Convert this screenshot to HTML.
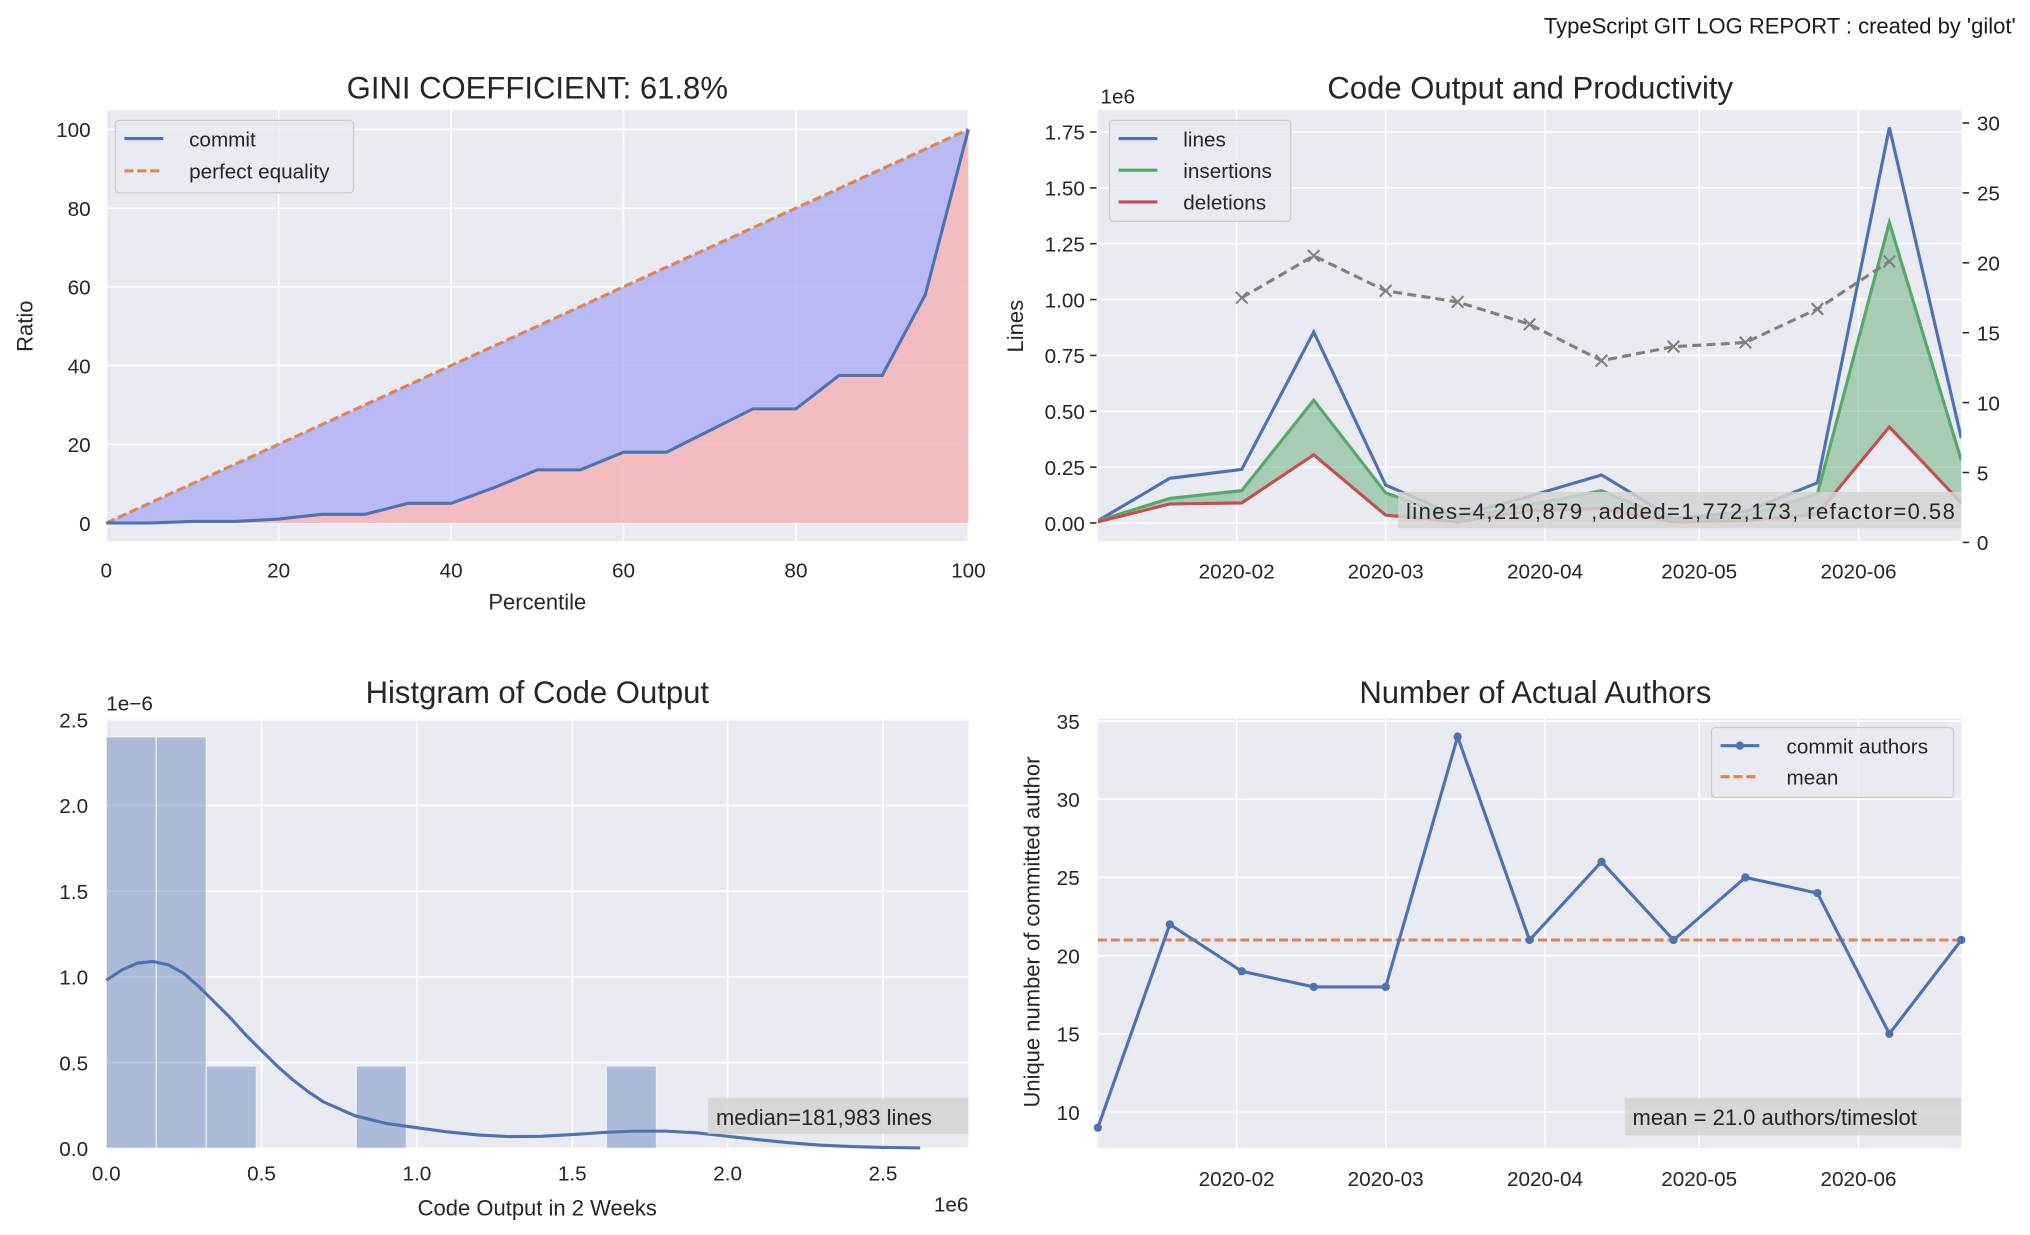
<!DOCTYPE html>
<html><head><meta charset="utf-8">
<style>
html,body{margin:0;padding:0;background:#fff;}
svg{display:block;font-family:"Liberation Sans",Arial,sans-serif;}
</style></head>
<body>
<svg id="fig" width="2030" height="1235" viewBox="0 0 1568 954" xmlns="http://www.w3.org/2000/svg">
<text x="1557" y="26" text-anchor="end" font-size="17" fill="#1a1a1a">TypeScript GIT LOG REPORT : created by 'gilot'</text>
</svg>
<script>
// ---- Panel 1: Gini / Lorenz ----
const giniPct = [0,5,10,15,20,25,30,35,40,45,50,55,60,65,70,75,80,85,90,95,100];
const giniCommit = [0,0,0.4,0.4,1,2.2,2.2,5,5,9,13.5,13.5,18,18,23.5,29,29,37.5,37.5,58,100];
const giniXTicks = [0,20,40,60,80,100];
const giniYTicks = [0,20,40,60,80,100];
// ---- Panel 2: code output ----
const outDates = ["2020-01-05","2020-01-19","2020-02-02","2020-02-16","2020-03-01","2020-03-15","2020-03-29","2020-04-12","2020-04-26","2020-05-10","2020-05-24","2020-06-07","2020-06-21"];
const outLines = [0.01,0.2,0.24,0.855,0.17,0.03,0.12,0.215,0.02,0.05,0.18,1.77,0.38];
const outInsert = [0.01,0.11,0.145,0.55,0.135,0.02,0.08,0.145,0.01,0.03,0.13,1.345,0.28];
const outDelete = [0.005,0.085,0.09,0.305,0.035,0.005,0.055,0.065,0.005,0.01,0.04,0.43,0.09];
const prodDates = ["2020-02-02","2020-02-16","2020-03-01","2020-03-15","2020-03-29","2020-04-12","2020-04-26","2020-05-10","2020-05-24","2020-06-07"];
const prodValues = [17.5,20.5,18,17.2,15.6,13,14,14.3,16.7,20.1];
const outYTicks = [0,0.25,0.5,0.75,1.0,1.25,1.5,1.75];
const outY2Ticks = [0,5,10,15,20,25,30];
const monthTicks = ["2020-02-01","2020-03-01","2020-04-01","2020-05-01","2020-06-01"];
// ---- Panel 3: histogram ----
const binEdgesStart = [0,0.161,0.322,0.805,1.61];
const binHeights = [2.4,2.4,0.48,0.48,0.48];
const kdeX = [0,0.05,0.1,0.15,0.2,0.25,0.3,0.35,0.4,0.45,0.5,0.55,0.6,0.65,0.7,0.75,0.8,0.9,1.0,1.1,1.2,1.3,1.4,1.5,1.6,1.7,1.8,1.9,2.0,2.1,2.2,2.3,2.4,2.5,2.62];
const kdeY = [0.98,1.04,1.08,1.09,1.07,1.02,0.94,0.85,0.76,0.66,0.57,0.48,0.4,0.33,0.27,0.23,0.19,0.145,0.12,0.095,0.077,0.068,0.07,0.08,0.092,0.1,0.1,0.09,0.07,0.05,0.032,0.018,0.01,0.005,0.002];
const histXTicks = [0,0.5,1.0,1.5,2.0,2.5];
const histYTicks = [0,0.5,1.0,1.5,2.0,2.5];
// ---- Panel 4: authors ----
const authorValues = [9,22,19,18,18,34,21,26,21,25,24,15,21];
const authorMean = [21];
const authYTicks = [10,15,20,25,30,35];

const NS="http://www.w3.org/2000/svg";
const fig=document.getElementById('fig');
function mk(tag,attrs,parent){const e=document.createElementNS(NS,tag);for(const k in attrs)e.setAttribute(k,attrs[k]);(parent||fig).appendChild(e);return e;}
function txt(s,attrs,parent){const e=mk('text',attrs,parent);e.textContent=s;return e;}
const FG="#262626", BG="#eaeaf2", TS=16, TT=24, LW=2.4;
const BLUE="#4c72b0", ORANGE="#dd8452", GREEN="#55a868", RED="#c44e52";
function pts(xs,ys,fx,fy){return xs.map((x,i)=>fx(x).toFixed(2)+','+fy(ys[i]).toFixed(2)).join(' ');}
const day=s=>Date.parse(s)/86400000;

// ===== Panel 1 =====
{
const L=82,R=748,T=85,B=418;
const sx=v=>L+(v/100)*(R-L), sy=v=>404-v*3.04;
const g=mk('g',{});

const bg=mk('rect',{x:L,y:T,width:R-L,height:B-T,fill:BG},g);

giniXTicks.forEach(t=>{mk('line',{x1:sx(t),x2:sx(t),y1:T,y2:B,stroke:'#fff','stroke-width':1.2},g);
 const e=txt(t,{x:sx(t),y:B+28,'text-anchor':'middle','font-size':TS,fill:FG},g);});
giniYTicks.forEach(t=>{mk('line',{x1:L,x2:R,y1:sy(t),y2:sy(t),stroke:'#fff','stroke-width':1.2},g);
 const e=txt(t,{x:L-12,y:sy(t)+6,'text-anchor':'end','font-size':TS,fill:FG},g);});
let top=giniPct.map(p=>sx(p)+','+sy(p)).join(' ');
let bot=giniPct.slice().reverse().map((p,i)=>sx(p)+','+sy(giniCommit[giniPct.length-1-i])).join(' ');
const a1=mk('polygon',{points:top+' '+bot,fill:'#b0b0f5','fill-opacity':0.85},g);

const a2=mk('polygon',{points:pts(giniPct,giniCommit,sx,sy)+' '+sx(100)+','+sy(0)+' '+sx(0)+','+sy(0),fill:'#f4b4b8','fill-opacity':0.85},g);

const eq=mk('polyline',{points:pts(giniPct,giniPct,sx,sy),fill:'none',stroke:ORANGE,'stroke-width':LW,'stroke-dasharray':'7,3'},g);

const cl=mk('polyline',{points:pts(giniPct,giniCommit,sx,sy),fill:'none',stroke:BLUE,'stroke-width':LW},g);

const lg=mk('g',{},g);
mk('rect',{x:89,y:93,width:184,height:56,rx:3,fill:BG,'fill-opacity':0.8,stroke:'#ccc'},lg);
mk('line',{x1:96,x2:126,y1:107,y2:107,stroke:BLUE,'stroke-width':LW},lg);
txt('commit',{x:146,y:113,'font-size':TS,fill:FG},lg);
mk('line',{x1:96,x2:126,y1:132,y2:132,stroke:ORANGE,'stroke-width':LW,'stroke-dasharray':'7,3'},lg);
txt('perfect equality',{x:146,y:138,'font-size':TS,fill:FG},lg);
const t1=txt('GINI COEFFICIENT: 61.8%',{x:415,y:76,'text-anchor':'middle','font-size':TT,fill:FG},g);
const xl=txt('Percentile',{x:415,y:471,'text-anchor':'middle','font-size':17,fill:FG},g);
const yl=txt('Ratio',{x:0,y:0,transform:'translate(25,252) rotate(-90)','text-anchor':'middle','font-size':17,fill:FG},g);
}

const L2=848,R2=1515;
const d0=day("2020-01-05"), d1=day("2020-06-21");
const sxd=s=>L2+(day(s)-d0)/(d1-d0)*(R2-L2);

// ===== Panel 2 =====
{
const T=85,B=418;
const sy=v=>404-v*172.6, sy2=v=>419-v*10.8;
const g=mk('g',{});
const bg=mk('rect',{x:L2,y:T,width:R2-L2,height:B-T,fill:BG},g);
monthTicks.forEach(m=>{mk('line',{x1:sxd(m),x2:sxd(m),y1:T,y2:B,stroke:'#fff','stroke-width':1.2},g);
 const e=txt(m.slice(0,7),{x:sxd(m),y:B+29,'text-anchor':'middle','font-size':TS,fill:FG},g);});
outYTicks.forEach(t=>{mk('line',{x1:L2,x2:R2,y1:sy(t),y2:sy(t),stroke:'#fff','stroke-width':1.2},g);
 mk('line',{x1:L2-6,x2:L2-1,y1:sy(t),y2:sy(t),stroke:FG,'stroke-width':1.2},g);
 const e=txt(t.toFixed(2),{x:L2-10,y:sy(t)+6,'text-anchor':'end','font-size':TS,fill:FG},g);});
outY2Ticks.forEach(t=>{mk('line',{x1:R2+1,x2:R2+6,y1:sy2(t),y2:sy2(t),stroke:FG,'stroke-width':1.2},g);
 const e=txt(t,{x:R2+12,y:sy2(t)+6,'font-size':TS,fill:FG},g);});
const cp=mk('clipPath',{id:'c2'},g);mk('rect',{x:L2,y:T,width:R2-L2,height:B-T},cp);
const pg=mk('g',{'clip-path':'url(#c2)'},g);
const fill=mk('polygon',{points:pts(outDates,outInsert,sxd,sy)+' '+pts(outDates.slice().reverse(),outDelete.slice().reverse(),sxd,sy),fill:GREEN,'fill-opacity':0.45},pg);

const ll=mk('polyline',{points:pts(outDates,outLines,sxd,sy),fill:'none',stroke:BLUE,'stroke-width':LW},pg);
const il=mk('polyline',{points:pts(outDates,outInsert,sxd,sy),fill:'none',stroke:GREEN,'stroke-width':LW},pg);
const dl=mk('polyline',{points:pts(outDates,outDelete,sxd,sy),fill:'none',stroke:RED,'stroke-width':LW},pg);
const pl=mk('polyline',{points:pts(prodDates,prodValues,sxd,sy2),fill:'none',stroke:'#808080','stroke-width':2.4,'stroke-dasharray':'7,4'},pg);
prodDates.forEach((d,i)=>{const x=sxd(d),y=sy2(prodValues[i]);
 const m=mk('path',{d:`M${x-4.5},${y-4.5}L${x+4.5},${y+4.5}M${x-4.5},${y+4.5}L${x+4.5},${y-4.5}`,stroke:'#808080','stroke-width':1.6},pg);
 });
const box=mk('g',{},g);
mk('rect',{x:1080,y:380,width:435,height:28,fill:'#d4d4d4','fill-opacity':0.85},box);
txt('lines=4,210,879 ,added=1,772,173, refactor=0.58',{x:1086,y:401,'font-size':17,fill:FG,textLength:424},box);
const lg=mk('g',{},g);
mk('rect',{x:857,y:93,width:140,height:78,rx:3,fill:BG,'fill-opacity':0.8,stroke:'#ccc'},lg);
[['lines',BLUE],['insertions',GREEN],['deletions',RED]].forEach((it,i)=>{mk('line',{x1:864,x2:894,y1:107+i*24.5,y2:107+i*24.5,stroke:it[1],'stroke-width':LW},lg);txt(it[0],{x:914,y:113+i*24.5,'font-size':TS,fill:FG},lg);});
const t=txt('Code Output and Productivity',{x:1182,y:76,'text-anchor':'middle','font-size':TT,fill:FG},g);
txt('1e6',{x:850,y:80,'font-size':TS,fill:FG},g);
const yl=txt('Lines',{x:0,y:0,transform:'translate(790,252) rotate(-90)','text-anchor':'middle','font-size':17,fill:FG},g);
}

// ===== Panel 3 =====
{
const L=82,R=748,T=555,B=887;
const sx=v=>L+v*240, sy=v=>887-v*132.4;
const g=mk('g',{});
const bg=mk('rect',{x:L,y:T,width:R-L,height:B-T,fill:BG},g);
histXTicks.forEach(t=>{mk('line',{x1:sx(t),x2:sx(t),y1:T,y2:B,stroke:'#fff','stroke-width':1.2},g);
 const e=txt(t.toFixed(1),{x:sx(t),y:B+25,'text-anchor':'middle','font-size':TS,fill:FG},g);});
histYTicks.forEach(t=>{mk('line',{x1:L,x2:R,y1:sy(t),y2:sy(t),stroke:'#fff','stroke-width':1.2},g);
 const e=txt(t.toFixed(1),{x:L-14,y:sy(t)+6,'text-anchor':'end','font-size':TS,fill:FG},g);});
const bw=0.161;
binEdgesStart.forEach((s,i)=>{const r=mk('rect',{x:sx(s),y:sy(binHeights[i]),width:bw*240,height:sy(0)-sy(binHeights[i]),fill:'#4c72b0','fill-opacity':0.4,stroke:'#fff','stroke-opacity':0.6,'stroke-width':1},g);
 });
const k=mk('polyline',{points:pts(kdeX,kdeY,sx,sy),fill:'none',stroke:BLUE,'stroke-width':LW,'stroke-linejoin':'round'},g);

const box=mk('g',{},g);
mk('rect',{x:547,y:848,width:201,height:28,fill:'#d4d4d4','fill-opacity':0.85},box);
txt('median=181,983 lines',{x:553,y:869,'font-size':17,fill:FG},box);
const t=txt('Histgram of Code Output',{x:415,y:543,'text-anchor':'middle','font-size':TT,fill:FG},g);
txt('1e\u22126',{x:82,y:549,'font-size':TS,fill:FG},g);
txt('1e6',{x:748,y:936,'text-anchor':'end','font-size':TS,fill:FG},g);
const xl=txt('Code Output in 2 Weeks',{x:415,y:939,'text-anchor':'middle','font-size':17,fill:FG},g);
}

// ===== Panel 4 =====
{
const T=555,B=887;
const sy=v=>859-(v-10)*12.08;
const g=mk('g',{});
const bg=mk('rect',{x:L2,y:T,width:R2-L2,height:B-T,fill:BG},g);
monthTicks.forEach(m=>{mk('line',{x1:sxd(m),x2:sxd(m),y1:T,y2:B,stroke:'#fff','stroke-width':1.2},g);
 const e=txt(m.slice(0,7),{x:sxd(m),y:B+29,'text-anchor':'middle','font-size':TS,fill:FG},g);});
authYTicks.forEach(t=>{mk('line',{x1:L2,x2:R2,y1:sy(t),y2:sy(t),stroke:'#fff','stroke-width':1.2},g);
 const e=txt(t,{x:L2-14,y:sy(t)+6,'text-anchor':'end','font-size':TS,fill:FG},g);});
const ml=mk('line',{x1:L2,x2:R2,y1:sy(authorMean[0]),y2:sy(authorMean[0]),stroke:ORANGE,'stroke-width':LW,'stroke-dasharray':'7,3'},g);

const al=mk('polyline',{points:pts(outDates,authorValues,sxd,sy),fill:'none',stroke:BLUE,'stroke-width':LW},g);

outDates.forEach((d,i)=>{const c=mk('circle',{cx:sxd(d),cy:sy(authorValues[i]),r:3.2,fill:BLUE},g);
 });
const box=mk('g',{},g);
mk('rect',{x:1255,y:848,width:260,height:29,fill:'#d4d4d4','fill-opacity':0.85},box);
txt('mean = 21.0 authors/timeslot',{x:1261,y:869,'font-size':17,fill:FG},box);
const lg=mk('g',{},g);
mk('rect',{x:1322,y:562,width:187,height:54,rx:3,fill:BG,'fill-opacity':0.8,stroke:'#ccc'},lg);
mk('line',{x1:1329,x2:1359,y1:576,y2:576,stroke:BLUE,'stroke-width':LW},lg);mk('circle',{cx:1344,cy:576,r:3.2,fill:BLUE},lg);
txt('commit authors',{x:1380,y:582,'font-size':TS,fill:FG},lg);
mk('line',{x1:1329,x2:1359,y1:600,y2:600,stroke:ORANGE,'stroke-width':LW,'stroke-dasharray':'7,3'},lg);
txt('mean',{x:1380,y:606,'font-size':TS,fill:FG},lg);
const t=txt('Number of Actual Authors',{x:1186,y:543,'text-anchor':'middle','font-size':TT,fill:FG},g);
const yl=txt('Unique number of committed author',{x:0,y:0,transform:'translate(803,720) rotate(-90)','text-anchor':'middle','font-size':17,fill:FG},g);
}
</script>
</body></html>
